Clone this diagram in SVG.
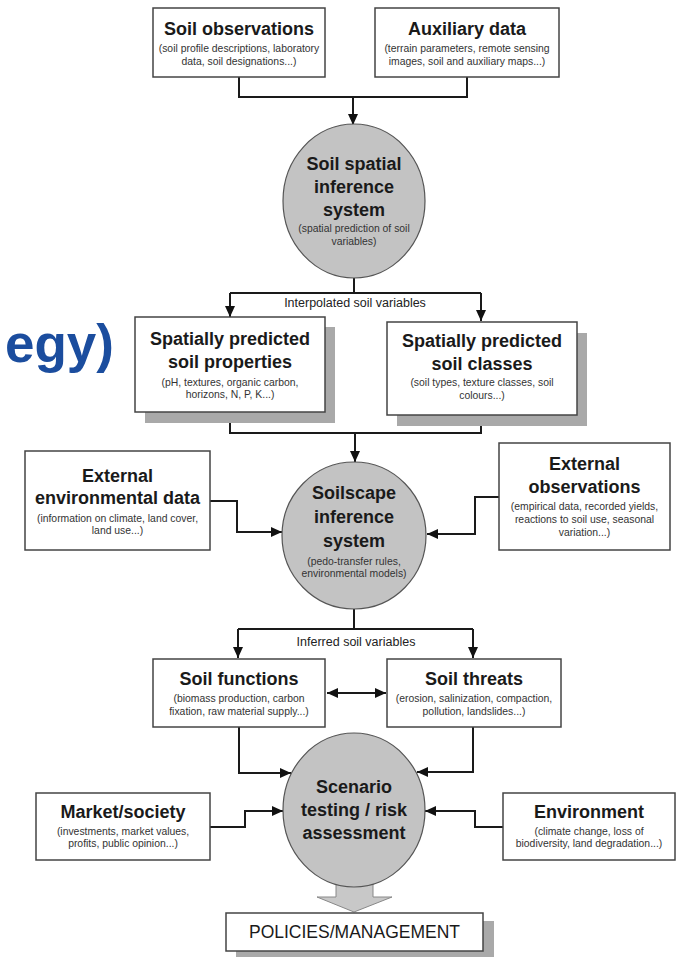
<svg xmlns="http://www.w3.org/2000/svg" width="676" height="957" viewBox="0 0 676 957">
<defs>
<marker id="ah" markerUnits="userSpaceOnUse" markerWidth="12" markerHeight="10" refX="11" refY="5" orient="auto-start-reverse">
<path d="M0,0 L11,5 L0,10 z" fill="#111"/>
</marker>
</defs>
<style>
.box{fill:#fff;stroke:#444;stroke-width:1.5}
.shadow{fill:#a9a9a9}
.ell{fill:#c3c3c3;stroke:#555;stroke-width:1.2}
.t{font-family:"Liberation Sans",Arial,sans-serif;font-weight:bold;font-size:18px;fill:#1a1a1a;text-anchor:middle}
.s{font-family:"Liberation Sans",Arial,sans-serif;font-size:10.4px;fill:#333;text-anchor:middle}
.lbl{font-family:"Liberation Sans",Arial,sans-serif;font-size:12.5px;fill:#222;text-anchor:middle}
.c{fill:none;stroke:#1a1a1a;stroke-width:2}
.ca{fill:none;stroke:#1a1a1a;stroke-width:2;marker-end:url(#ah)}
</style>
<rect width="676" height="957" fill="#fff"/>
<text x="114" y="362" font-family="Liberation Sans,Arial,sans-serif" font-weight="bold" font-size="53" fill="#1b4d9e" text-anchor="end">egy)</text>

<g id="connectors">
<path class="c" d="M239,77 V97 H467 V77"/>
<path class="ca" d="M353,97 V125"/>
<path class="c" d="M354,278 V293"/>
<path class="c" d="M230,293 H481"/>
<path class="ca" d="M230,293 V317"/>
<path class="ca" d="M481,293 V321"/>
<path class="c" d="M230,412 V433 H481 V415"/>
<path class="ca" d="M355,433 V462"/>
<path class="ca" d="M210,501 H237 V532 H282"/>
<path class="ca" d="M499,497 H475 V534 H427"/>
<path class="c" d="M354,609 V629"/>
<path class="c" d="M238,629 H473"/>
<path class="ca" d="M238,629 V658"/>
<path class="ca" d="M473,629 V658"/>
<path class="c" d="M327,693 H386" marker-start="url(#ah)" marker-end="url(#ah)"/>
<path class="ca" d="M239,727 V773 H291"/>
<path class="ca" d="M473,727 V772 H417"/>
<path class="ca" d="M210,827 H245 V811 H283"/>
<path class="ca" d="M503,827 H475 V811 H425"/>
<polygon points="336,880 373,880 373,897 392,897 354,912 317,897 336,897" fill="#c8c8c8" stroke="#888" stroke-width="1"/>
</g>

<g id="soil-observations">
<rect class="box" x="153" y="8" width="172" height="69"/>
<text class="t" x="239" y="35">Soil observations</text>
<text class="s" x="239" y="52">(soil profile descriptions, laboratory</text>
<text class="s" x="239" y="65">data, soil designations...)</text>
</g>
<g id="auxiliary-data">
<rect class="box" x="375" y="8" width="184" height="69"/>
<text class="t" x="467" y="35">Auxiliary data</text>
<text class="s" x="467" y="52">(terrain parameters, remote sensing</text>
<text class="s" x="467" y="65">images, soil and auxiliary maps...)</text>
</g>
<g id="soil-spatial-inference">
<ellipse class="ell" cx="354" cy="201" rx="71" ry="77"/>
<text class="t" x="354" y="170">Soil spatial</text>
<text class="t" x="354" y="193">inference</text>
<text class="t" x="354" y="216">system</text>
<text class="s" x="354" y="232">(spatial prediction of soil</text>
<text class="s" x="354" y="245">variables)</text>
</g>
<text class="lbl" x="355" y="307">Interpolated soil variables</text>
<g id="soil-properties">
<rect class="shadow" x="145" y="327" width="190" height="96"/>
<rect class="box" x="135" y="317" width="190" height="95"/>
<text class="t" x="230" y="345">Spatially predicted</text>
<text class="t" x="230" y="368">soil properties</text>
<text class="s" x="230" y="386">(pH, textures, organic carbon,</text>
<text class="s" x="230" y="398">horizons, N, P, K...)</text>
</g>
<g id="soil-classes">
<rect class="shadow" x="397" y="333" width="190" height="93"/>
<rect class="box" x="387" y="322" width="190" height="93"/>
<text class="t" x="482" y="347">Spatially predicted</text>
<text class="t" x="482" y="370">soil classes</text>
<text class="s" x="482" y="386">(soil types, texture classes, soil</text>
<text class="s" x="482" y="399">colours...)</text>
</g>
<g id="external-environmental-data">
<rect class="box" x="25" y="451" width="185" height="99"/>
<text class="t" x="117.5" y="482">External</text>
<text class="t" x="117.5" y="504">environmental data</text>
<text class="s" x="117.5" y="522">(information on climate, land cover,</text>
<text class="s" x="117.5" y="534">land use...)</text>
</g>
<g id="external-observations">
<rect class="box" x="499" y="443" width="171" height="107"/>
<text class="t" x="584.5" y="470">External</text>
<text class="t" x="584.5" y="493">observations</text>
<text class="s" x="584.5" y="510">(empirical data, recorded yields,</text>
<text class="s" x="584.5" y="523">reactions to soil use, seasonal</text>
<text class="s" x="584.5" y="536">variation...)</text>
</g>
<g id="soilscape-inference">
<ellipse class="ell" cx="354" cy="535.5" rx="72" ry="73.5"/>
<text class="t" x="354" y="499">Soilscape</text>
<text class="t" x="354" y="523">inference</text>
<text class="t" x="354" y="547">system</text>
<text class="s" x="354" y="565">(pedo-transfer rules,</text>
<text class="s" x="354" y="577">environmental models)</text>
</g>
<text class="lbl" x="356" y="646">Inferred soil variables</text>
<g id="soil-functions">
<rect class="box" x="153" y="659" width="172" height="68"/>
<text class="t" x="239" y="685">Soil functions</text>
<text class="s" x="239" y="702">(biomass production, carbon</text>
<text class="s" x="239" y="715">fixation, raw material supply...)</text>
</g>
<g id="soil-threats">
<rect class="box" x="387" y="659" width="174" height="68"/>
<text class="t" x="474" y="685">Soil threats</text>
<text class="s" x="474" y="702">(erosion, salinization, compaction,</text>
<text class="s" x="474" y="715">pollution, landslides...)</text>
</g>
<g id="market-society">
<rect class="box" x="36" y="793" width="174" height="67"/>
<text class="t" x="123" y="818">Market/society</text>
<text class="s" x="123" y="835">(investments, market values,</text>
<text class="s" x="123" y="847">profits, public opinion...)</text>
</g>
<g id="environment">
<rect class="box" x="503" y="793" width="172" height="67"/>
<text class="t" x="589" y="818">Environment</text>
<text class="s" x="589" y="835">(climate change, loss of</text>
<text class="s" x="589" y="847">biodiversity, land degradation...)</text>
</g>
<g id="scenario-testing">
<ellipse class="ell" cx="354" cy="810" rx="71" ry="77"/>
<text class="t" x="354" y="793">Scenario</text>
<text class="t" x="354" y="816">testing / risk</text>
<text class="t" x="354" y="839">assessment</text>
</g>
<g id="policies-management">
<rect class="shadow" x="236" y="921" width="258" height="40"/>
<rect class="box" x="226" y="913" width="257" height="38"/>
<text x="354.5" y="938" font-family="Liberation Sans,Arial,sans-serif" font-size="17.5" fill="#1a1a1a" text-anchor="middle">POLICIES/MANAGEMENT</text>
</g>
</svg>
